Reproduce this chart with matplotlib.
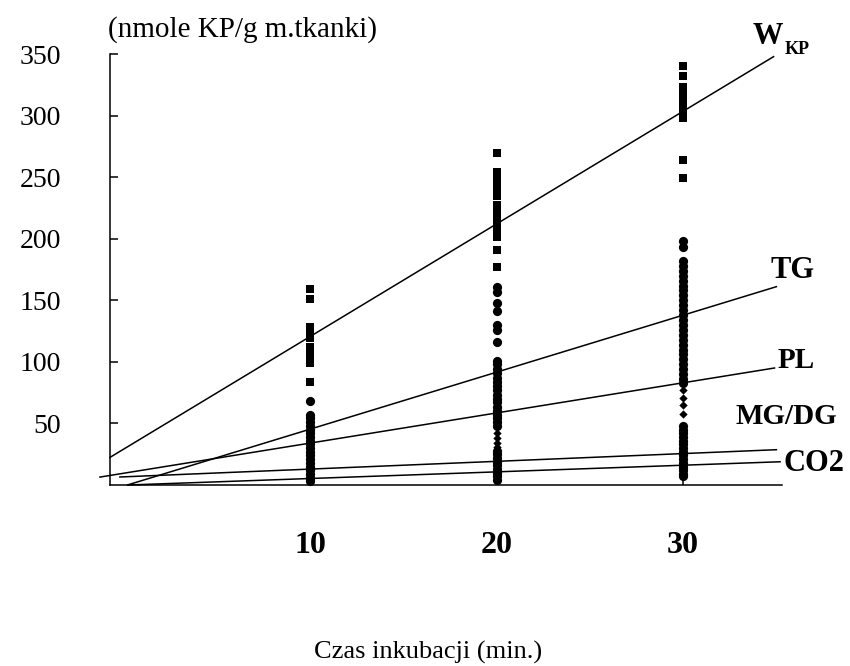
import matplotlib.pyplot as plt

plt.rcParams['font.family'] = ['Liberation Serif', 'DejaVu Serif']

# incubation times (min.)
times = [10, 20, 30]

# W_KP values at each time (squares)
wkp_10 = [159, 151, 128, 125, 122, 119, 112, 109, 106, 103, 99, 84]
wkp_20 = [270, 254, 250, 247, 244, 241, 235, 227, 224, 220, 217, 213, 209, 205, 201, 191, 177]
wkp_30 = [340, 332, 323, 320, 317, 314, 311, 308, 305, 302, 298, 264, 249]

# TG (circles)
tg_10 = [68, 57, 54, 51, 48, 45, 42]
tg_20 = [161, 157, 148, 141, 130, 126, 116, 101, 98, 94, 91, 87, 84, 80, 77, 73, 70]
tg_30 = [198, 193, 182, 178, 174, 170, 166, 162, 158, 154, 150, 146, 142, 138,
         134, 130, 126, 122]

# PL (circles)
pl_10 = [39, 36, 33, 30, 27, 24, 21]
pl_20 = [67, 63, 60, 57, 54, 51, 48]
pl_30 = [118, 114, 110, 106, 102, 98, 94, 90, 86, 83]

# MG/DG (small diamonds)
mgdg_10 = [14, 10, 7]
mgdg_20 = [42, 38, 34, 31, 22, 18]
mgdg_30 = [77, 71, 65, 58, 28, 24]

# CO2 (circles)
co2_10 = [18, 15, 12, 9, 6, 3]
co2_20 = [28, 25, 22, 19, 16, 13, 10, 7, 4]
co2_30 = [48, 45, 42, 39, 36, 33, 30, 27, 24, 21, 18, 15, 12, 9, 7]

# linear trend lines: y = slope*x + icpt, drawn from x0 to x1
trend_slope = [9.15, 4.63, 2.45, 0.63, 0.54]
trend_icpt = [29.0, -1.0, 9.5, 6.6, -0.15]
trend_x0 = [-0.72, 0.22, -1.26, -0.19, 0.28]
trend_x1 = [34.85, 35.0, 34.9, 35.0, 35.2]

yticks = [50, 100, 150, 200, 250, 300, 350]


def column(vals, t):
    return [t] * len(vals), vals


fig = plt.figure(figsize=(8.5, 6.66), dpi=100)
ax = fig.add_axes([0.1294, 0.2718, 0.7906, 0.6471])

for vals, t in [(mgdg_10, 10), (mgdg_20, 20), (mgdg_30, 30)]:
    x, y = column(vals, t)
    ax.scatter(x, y, marker='D', s=18, color='black', lw=0, clip_on=False, zorder=2)

for group in [(tg_10, tg_20, tg_30), (pl_10, pl_20, pl_30), (co2_10, co2_20, co2_30)]:
    for vals, t in zip(group, times):
        x, y = column(vals, t)
        ax.scatter(x, y, marker='o', s=44, color='black', lw=0, clip_on=False, zorder=3)

for vals, t in [(wkp_10, 10), (wkp_20, 20), (wkp_30, 30)]:
    x, y = column(vals, t)
    ax.scatter(x, y, marker='s', s=30, color='black', lw=0, clip_on=False, zorder=3)

for a, b, x0, x1 in zip(trend_slope, trend_icpt, trend_x0, trend_x1):
    ax.plot([x0, x1], [a * x0 + b, a * x1 + b], color='black', lw=1.1,
            clip_on=False, zorder=4)

ax.set_xlim(-0.72, 35.3)
ax.set_ylim(0, 350)
ax.spines['top'].set_visible(False)
ax.spines['right'].set_visible(False)
ax.spines['left'].set_linewidth(1.1)
ax.spines['bottom'].set_linewidth(1.1)

ax.set_xticks(times)
ax.set_xticklabels([str(t) for t in times], fontweight='bold')
ax.set_yticks(yticks)
ax.tick_params(axis='y', direction='in', length=5.8, width=1.1, pad=35, labelsize=20)
ax.tick_params(axis='x', direction='in', length=5.8, width=1.1, pad=33, labelsize=23)

# series names at the right ends of the lines
ax.text(33.7, 364, 'W', fontsize=22, fontweight='bold', ha='left', va='center', clip_on=False)
ax.text(35.45, 354, 'KP', fontsize=13, fontweight='bold', ha='left', va='center', clip_on=False)
ax.text(34.67, 174.5, 'TG', fontsize=22, fontweight='bold', ha='left', va='center', clip_on=False)
ax.text(35.04, 101.5, 'PL', fontsize=21, fontweight='bold', ha='left', va='center', clip_on=False)
ax.text(32.79, 55.5, 'MG/DG', fontsize=21, fontweight='bold', ha='left', va='center', clip_on=False)
ax.text(35.36, 17.5, 'CO2', fontsize=22, fontweight='bold', ha='left', va='center', clip_on=False)

fig.text(0.127, 0.955, '(nmole KP/g m.tkanki)', fontsize=21, ha='left', va='center')
fig.text(0.5035, 0.021, 'Czas inkubacji (min.)', fontsize=19, ha='center', va='center')

fig.savefig('out.png', dpi=100)
